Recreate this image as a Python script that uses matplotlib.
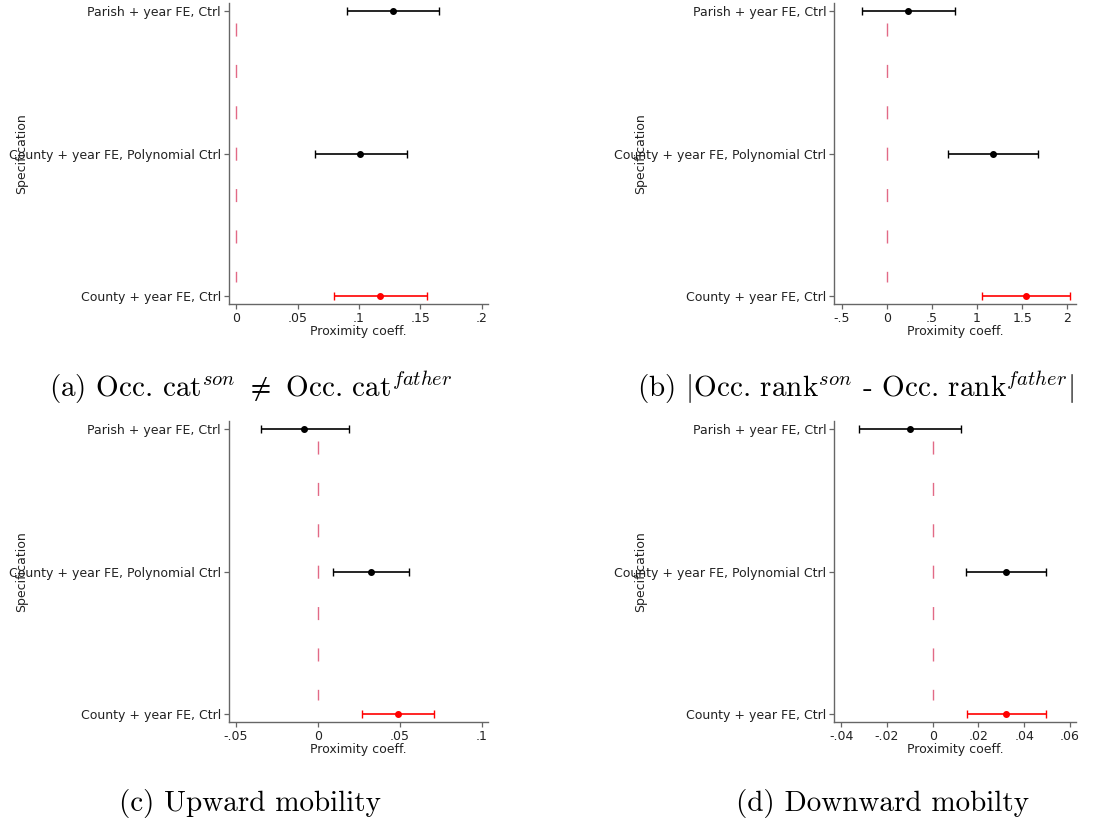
import numpy as np
import matplotlib
matplotlib.use("Agg")
import matplotlib.pyplot as plt
from matplotlib.ticker import FuncFormatter

# --- Data ---
# order: bottom -> top
specs = ["County + year FE, Ctrl",
         "County + year FE, Polynomial Ctrl",
         "Parish + year FE, Ctrl"]

coef_a = [0.1171, 0.1011, 0.1277]
lo_a = [0.0794, 0.0639, 0.0905]
hi_a = [0.1557, 0.1389, 0.1652]

coef_b = [1.539, 1.173, 0.238]
lo_b = [1.052, 0.675, -0.275]
hi_b = [2.030, 1.676, 0.756]

coef_c = [0.0489, 0.0322, -0.0083]
lo_c = [0.0271, 0.0090, -0.0349]
hi_c = [0.0711, 0.0558, 0.0190]

coef_d = [0.0320, 0.0319, -0.0100]
lo_d = [0.0148, 0.0145, -0.0320]
hi_d = [0.0497, 0.0497, 0.0125]

ticks_a = [0, .05, .1, .15, .2]
ticks_b = [-.5, 0, .5, 1, 1.5, 2]
ticks_c = [-.05, 0, .05, .1]
ticks_d = [-.04, -.02, 0, .02, .04, .06]

captions = [r"(a) Occ. cat$^{son}$ $\neq$ Occ. cat$^{father}$",
            r"(b) $|$Occ. rank$^{son}$ - Occ. rank$^{father}$$|$",
            "(c) Upward mobility",
            "(d) Downward mobilty"]

plt.rcParams["mathtext.fontset"] = "cm"
plt.rcParams["lines.scale_dashes"] = False

W, H = 1119, 823
fig = plt.figure(figsize=(W / 100, H / 100), dpi=100)


def px_axes(left, top, right, bottom):
    return fig.add_axes([left / W, 1 - bottom / H, (right - left) / W, (bottom - top) / H])


def stata_fmt(v, pos):
    s = f"{round(v, 6):g}"
    return s.replace("-0.", "-.").replace("0.", ".") if s != "0" else s


def panel(ax, coef, lo, hi, ticks, xlim):
    ypos = np.arange(1, len(specs) + 1)
    coef = np.asarray(coef)
    lo = np.asarray(lo)
    hi = np.asarray(hi)
    # zero reference line (stata-style short dashes)
    ax.plot([0, 0], [ypos.max() - 0.084, ypos.min() + 0.098], color="#e26a86",
            lw=1.0, linestyle=(0, (9.4, 20.4)), zorder=1)
    for i, y in enumerate(ypos):
        col = "red" if i == 0 else "black"
        ax.errorbar(coef[i], y, xerr=[[coef[i] - lo[i]], [hi[i] - coef[i]]],
                    fmt="o", color=col, ms=4, elinewidth=1.2, capsize=2.6,
                    capthick=1.0, zorder=3)
    ax.set_ylim(0.946, 3.054)
    ax.set_yticks(ypos)
    ax.set_yticklabels(specs)
    ax.set_xlim(*xlim)
    ax.set_xticks(ticks)
    ax.xaxis.set_major_formatter(FuncFormatter(stata_fmt))
    for s in ("top", "right"):
        ax.spines[s].set_visible(False)
    for s in ("left", "bottom"):
        ax.spines[s].set_color("#666666")
        ax.spines[s].set_linewidth(1.0)
    ax.tick_params(axis="both", labelsize=9, colors="#222222", length=3.6,
                   width=0.9, pad=2)
    ax.tick_params(axis="both", color="#666666")
    ax.set_xlabel("Proximity coeff.", fontsize=9, labelpad=0, color="#222222")
    ax.set_ylabel("Specification", fontsize=9, color="#222222")


ax_a = px_axes(228.7, 3, 488.3, 304)
panel(ax_a, coef_a, lo_a, hi_a, ticks_a, (-0.0062, 0.2054))
ax_a.yaxis.set_label_coords((28 - 228.7) / 259.6, 0.5)

ax_b = px_axes(834, 3, 1076, 304)
panel(ax_b, coef_b, lo_b, hi_b, ticks_b, (-0.585, 2.096))
ax_b.yaxis.set_label_coords((647 - 834) / 242, 0.5)

ax_c = px_axes(228.7, 421, 488.3, 722)
panel(ax_c, coef_c, lo_c, hi_c, ticks_c, (-0.0545, 0.104))
ax_c.yaxis.set_label_coords((28 - 228.7) / 259.6, 0.5)

ax_d = px_axes(834, 421, 1076, 722)
panel(ax_d, coef_d, lo_d, hi_d, ticks_d, (-0.0431, 0.0626))
ax_d.yaxis.set_label_coords((647 - 834) / 242, 0.5)

cap_pos = [(251, 388), (855, 388), (250, 804), (883, 804)]
for (cx, cy), txt in zip(cap_pos, captions):
    fig.text(cx / W, 1 - cy / H, txt, ha="center", va="center",
             fontsize=21, family="cmr10")

fig.savefig("out.png", dpi=100, facecolor="white")
